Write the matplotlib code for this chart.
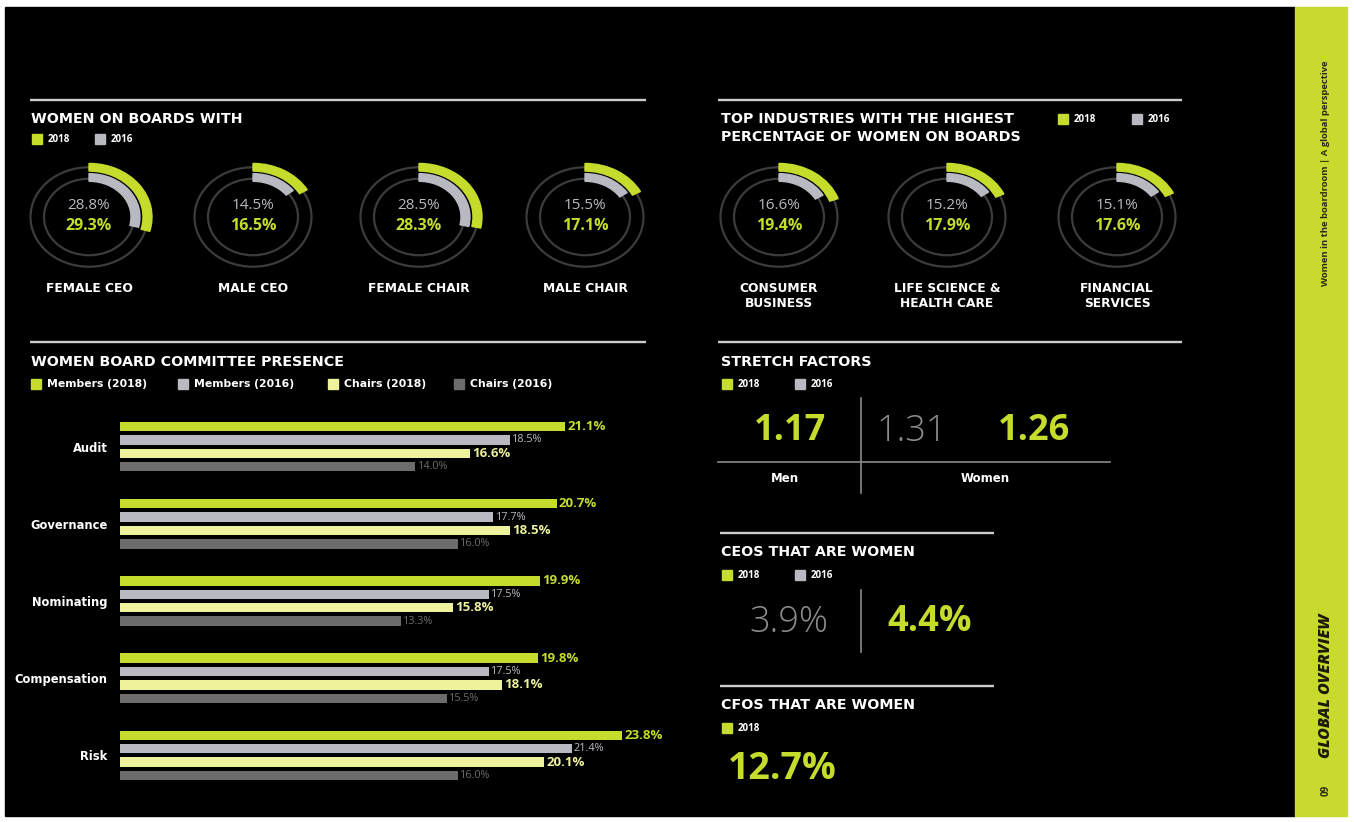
import matplotlib
matplotlib.use("Agg")
import matplotlib.pyplot as plt
from matplotlib.patches import Rectangle, Wedge, Circle

plt.rcParams['font.family'] = ['Open Sans', 'DejaVu Sans']

# ---------------- data ----------------
board_labels = ['FEMALE CEO', 'MALE CEO', 'FEMALE CHAIR', 'MALE CHAIR']
board_2018 = [29.3, 16.5, 28.3, 17.1]
board_2016 = [28.8, 14.5, 28.5, 15.5]

industry_labels = ['CONSUMER\nBUSINESS', 'LIFE SCIENCE &\nHEALTH CARE', 'FINANCIAL\nSERVICES']
industry_2018 = [19.4, 17.9, 17.6]
industry_2016 = [16.6, 15.2, 15.1]

committees = ['Audit', 'Governance', 'Nominating', 'Compensation', 'Risk']
members_2018 = [21.1, 20.7, 19.9, 19.8, 23.8]
members_2016 = [18.5, 17.7, 17.5, 17.5, 21.4]
chairs_2018 = [16.6, 18.5, 15.8, 18.1, 20.1]
chairs_2016 = [14.0, 16.0, 13.3, 15.5, 16.0]

stretch_men_2018 = 1.17
stretch_women_2016 = 1.31
stretch_women_2018 = 1.26
ceo_women_2016 = 3.9
ceo_women_2018 = 4.4
cfo_women_2018 = 12.7

# ---------------- style ----------------
LIME = '#c6dc2c'
GREY = '#b9b9c2'
PALE = '#eef29c'
DARK = '#6c6c6c'
RING = '#3c3c3c'
RULE = '#cccccc'
HEAD = ['DejaVu Sans']
W, H = 1354, 822

fig = plt.figure(figsize=(W / 100, H / 100), dpi=100)
fig.patch.set_facecolor('white')
bg = fig.add_axes([0, 0, 1, 1])
bg.set_xlim(0, W)
bg.set_ylim(H, 0)
bg.axis('off')

bg.add_patch(Rectangle((5, 7), 1290, 809, color='black', zorder=0))
bg.add_patch(Rectangle((1295, 7), 52, 809, color='#c8da2e', zorder=0))


def T(x, y, s, size=9, color='white', weight='bold', ha='left', va='center', **kw):
    return bg.text(x, y, s, fontsize=size, color=color, fontweight=weight, ha=ha, va=va, **kw)


def rule(x0, x1, y, color=RULE, lw=1.7):
    bg.plot([x0, x1], [y, y], color=color, lw=lw, solid_capstyle='butt')


def legend(items, y, size=7, family=None):
    for x, col, lab in items:
        bg.add_patch(Rectangle((x, y - 5), 10, 10, color=col, zorder=2))
        if family:
            T(x + 16, y, lab, size=size, color='white', family=family)
        else:
            T(x + 16, y, lab, size=size, color='white')


# rules
rule(30, 646, 100)
rule(718, 1182, 100)
rule(30, 646, 342)
rule(718, 1182, 342)
rule(720, 994, 533)
rule(720, 994, 686)

# headers
HS = 10.3
T(31, 119, 'WOMEN ON BOARDS WITH', size=HS, family=HEAD)
legend([(32, LIME, '2018'), (95, GREY, '2016')], 139)
T(721, 119, 'TOP INDUSTRIES WITH THE HIGHEST', size=HS, family=HEAD)
T(721, 137, 'PERCENTAGE OF WOMEN ON BOARDS', size=HS, family=HEAD)
legend([(1058, LIME, '2018'), (1132, GREY, '2016')], 119)
T(31, 362, 'WOMEN BOARD COMMITTEE PRESENCE', size=HS, family=HEAD)
legend([(31, LIME, 'Members (2018)'), (178, GREY, 'Members (2016)'),
        (328, PALE, 'Chairs (2018)'), (454, DARK, 'Chairs (2016)')], 384, size=7.8, family=HEAD)
T(721, 362, 'STRETCH FACTORS', size=HS, family=HEAD)
legend([(722, LIME, '2018'), (795, GREY, '2016')], 384)
T(721, 552, 'CEOS THAT ARE WOMEN', size=HS, family=HEAD)
legend([(722, LIME, '2018'), (795, GREY, '2016')], 575)
T(721, 705, 'CFOS THAT ARE WOMEN', size=HS, family=HEAD)
legend([(722, LIME, '2018')], 728)

# ---------------- donuts ----------------
RX, SQ = 66.0, 0.85


def donut(cx, cy, v18, v16, label, label_y):
    ry = RX * SQ
    ax = fig.add_axes([(cx - RX) / W, 1 - (cy + ry) / H, 2 * RX / W, 2 * ry / H])
    ax.set_xlim(-1, 1)
    ax.set_ylim(-1, 1)
    ax.set_aspect('auto')
    ax.axis('off')
    ax.add_patch(Circle((0, 0), 58.5 / RX, fill=False, ec=RING, lw=1.6))
    ax.add_patch(Circle((0, 0), 45 / RX, fill=False, ec=RING, lw=1.6))
    ax.add_patch(Wedge((0, 0), 63 / RX, 90 - 3.6 * v18, 90, width=9 / RX, color=LIME))
    ax.add_patch(Wedge((0, 0), 51 / RX, 90 - 3.6 * v16, 90, width=9 / RX, color=GREY))
    T(cx, cy - 12, f'{v16:.1f}%', size=11, color=GREY, weight='normal', ha='center')
    T(cx, cy + 9, f'{v18:.1f}%', size=11.5, color=LIME, weight='bold', ha='center')
    T(cx, label_y, label, size=8.8, color='white', ha='center', va='center',
      linespacing=1.2, family=HEAD)


for cx, lab, a, b in zip([89, 253, 419, 585], board_labels, board_2018, board_2016):
    donut(cx, 217, a, b, lab, 288)
for cx, lab, a, b in zip([779, 947, 1117], industry_labels, industry_2018, industry_2016):
    donut(cx, 217, a, b, lab, 296)

# ---------------- bars ----------------
PXPCT = 21.1
XMAX = 26
y_top, y_bot = 408, 794
bax = fig.add_axes([120 / W, 1 - y_bot / H, XMAX * PXPCT / W, (y_bot - y_top) / H])
bax.set_facecolor('none')
bax.set_xlim(0, XMAX)
bax.set_ylim(len(committees) - 0.5, -0.5)
for s in bax.spines.values():
    s.set_visible(False)
bax.set_xticks([])
bax.set_yticks(range(len(committees)))
bax.set_yticklabels(committees, fontsize=8.3, fontweight='bold', color='white',
                    family=HEAD)
bax.tick_params(axis='y', length=0, pad=9)

step = 13.4 / (y_bot - y_top) * len(committees)
bh = 9.5 / (y_bot - y_top) * len(committees)
series = [
    (members_2018, LIME, LIME, 'bold', 9.5),
    (members_2016, GREY, GREY, 'normal', 7.8),
    (chairs_2018, PALE, PALE, 'bold', 9.5),
    (chairs_2016, DARK, DARK, 'normal', 7.8),
]
for k, (vals, col, tcol, tw, ts) in enumerate(series):
    ys = [i + (k - 1.5) * step for i in range(len(committees))]
    bax.barh(ys, vals, height=bh, color=col)
    for y, v in zip(ys, vals):
        bax.text(v + 0.1, y, f'{v:.1f}%', va='center', ha='left', fontsize=ts,
                 fontweight=tw, color=tcol)

# ---------------- stretch factors ----------------
bg.plot([861, 861], [398, 493], color='#8a8a8a', lw=1.2)
bg.plot([718, 1110], [462, 462], color='#8a8a8a', lw=1.2)
T(790, 431, f'{stretch_men_2018:.2f}', size=26, color=LIME, ha='center')
T(912, 431, f'{stretch_women_2016:.2f}', size=26, color='#8c8c8c', weight='light', ha='center')
T(1034, 431, f'{stretch_women_2018:.2f}', size=26, color=LIME, ha='center')
T(785, 478, 'Men', size=8.5, ha='center', family=HEAD)
T(985, 478, 'Women', size=8.5, ha='center', family=HEAD)

# ---------------- CEOs / CFOs ----------------
bg.plot([861, 861], [590, 652], color='#8a8a8a', lw=1.2)
T(789, 622, f'{ceo_women_2016:.1f}%', size=26, color='#8c8c8c', weight='light', ha='center')
T(930, 622, f'{ceo_women_2018:.1f}%', size=26, color=LIME, ha='center')
T(728, 769, f'{cfo_women_2018:.1f}%', size=27, color=LIME, ha='left')

# ---------------- sidebar ----------------
T(1326, 173, 'Women in the boardroom | A global perspective', size=6.8, color='#2a2a10',
  weight='bold', ha='center', rotation=90)
T(1326, 686, 'GLOBAL OVERVIEW', size=11.5, color='#1a1a08', ha='center', rotation=90,
  style='italic', weight='heavy')
T(1326, 790, '09', size=7, color='#2a2a10', ha='center', rotation=90)

fig.savefig('out.png', dpi=100, facecolor='white')
